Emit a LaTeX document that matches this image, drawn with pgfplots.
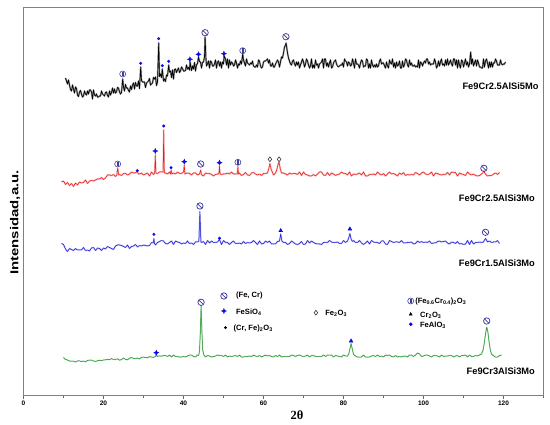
\documentclass[border=0pt]{standalone}
\usepackage{fontspec}
\setmainfont{Liberation Sans}
\newfontfamily\serifb{Liberation Serif}
\usepackage{pgfplots}
\pgfplotsset{compat=1.18}
\definecolor{navy}{RGB}{60,60,160}
\definecolor{mblue}{RGB}{10,10,230}
\definecolor{tred}{RGB}{232,30,30}
\definecolor{tblue}{RGB}{25,25,215}
\definecolor{tgreen}{RGB}{30,145,40}
\pgfdeclareplotmark{fecr}{%
  \pgfpathcircle{\pgfpointorigin}{\pgfplotmarksize}\pgfusepathqstroke
  \pgfpathmoveto{\pgfpoint{-0.7\pgfplotmarksize}{0.7\pgfplotmarksize}}%
  \pgfpathlineto{\pgfpoint{0.7\pgfplotmarksize}{-0.7\pgfplotmarksize}}\pgfusepathqstroke}
\pgfdeclareplotmark{fecro}{%
  \pgfpathcircle{\pgfpointorigin}{\pgfplotmarksize}\pgfusepathqstroke
  \pgfpathmoveto{\pgfpoint{-0.25\pgfplotmarksize}{-0.8\pgfplotmarksize}}%
  \pgfpathlineto{\pgfpoint{-0.25\pgfplotmarksize}{0.8\pgfplotmarksize}}%
  \pgfpathmoveto{\pgfpoint{0.25\pgfplotmarksize}{-0.8\pgfplotmarksize}}%
  \pgfpathlineto{\pgfpoint{0.25\pgfplotmarksize}{0.8\pgfplotmarksize}}\pgfusepathqstroke}
\pgfdeclareplotmark{star4}{%
  \pgfpathmoveto{\pgfpoint{0pt}{\pgfplotmarksize}}%
  \pgfpathlineto{\pgfpoint{0.3\pgfplotmarksize}{0.3\pgfplotmarksize}}%
  \pgfpathlineto{\pgfpoint{\pgfplotmarksize}{0pt}}%
  \pgfpathlineto{\pgfpoint{0.3\pgfplotmarksize}{-0.3\pgfplotmarksize}}%
  \pgfpathlineto{\pgfpoint{0pt}{-\pgfplotmarksize}}%
  \pgfpathlineto{\pgfpoint{-0.3\pgfplotmarksize}{-0.3\pgfplotmarksize}}%
  \pgfpathlineto{\pgfpoint{-\pgfplotmarksize}{0pt}}%
  \pgfpathlineto{\pgfpoint{-0.3\pgfplotmarksize}{0.3\pgfplotmarksize}}%
  \pgfpathclose\pgfusepathqfillstroke}
\begin{document}
\begin{tikzpicture}
\useasboundingbox (-23.5pt,-29pt) rectangle (526.5pt,395pt);
\begin{axis}[
  at={(0pt,0pt)}, anchor=south west,
  width=520pt, height=388pt, scale only axis,
  xmin=0, xmax=130, ymin=0, ymax=388,
  xtick={0,20,...,120}, minor xtick={10,30,...,130},
  ytick=\empty,
  tick align=outside, xtick pos=bottom,
  major tick length=3.5pt, minor tick length=2.5pt,
  axis line style={draw=black!50, line width=0.9pt},
  every tick/.style={black!60, line width=0.6pt},
  /pgf/number format/assume math mode=true,
  xticklabel style={font=\fontsize{6.5}{7}\selectfont\bfseries, yshift=1pt},
  clip=false,
]
% Fe9Cr2.5AlSi5Mo
\addplot[black, line width=0.65pt, line join=round, preaction={draw=black!40, line width=1.7pt, line join=round}] coordinates {
(10.5,317)(10.75,314)(11,311)(11.25,315)(11.5,310)(11.75,305.5)(12,304)(12.25,310)(12.5,306)(12.75,302)(13,308)(13.25,306.5)(13.5,300)(13.75,298.5)(14,303)(14.25,304.5)(14.5,301)(14.75,298)(15,299)(15.25,304)(15.5,301)(15.75,300)(16,304)(16.25,301)(16.5,305)(16.75,305)(17,303)(17.25,296)(17.5,305)(17.75,300)(18,299)(18.25,301)(18.5,298)(18.75,298)(19,299)(19.25,299)(19.5,304)(19.75,301)(20,300)(20.25,299)(20.5,302.5)(20.75,303)(21,299.5)(21.25,298)(21.5,304)(21.75,300)(22,302.5)(22.25,307)(22.5,302)(22.75,306)(23,302)(23.25,303)(23.5,307.5)(23.75,307)(24,303)(24.25,301)(24.5,302.5)(24.8,316)(25,308)(25.25,304)(25.5,310.5)(25.75,307)(26,307)(26.25,304.5)(26.5,303)(26.75,309)(27,305.5)(27.25,310)(27.5,312)(27.75,306)(28,312.5)(28.25,309)(28.5,309)(28.75,314)(29,306.5)(29.3,328)(29.5,314.5)(29.75,313)(30,313)(30.25,313)(30.5,307.5)(30.75,312)(31,313)(31.25,314)(31.5,316.5)(31.75,310)(32,311)(32.25,312)(32.5,317.5)(32.75,316)(33,318)(33.25,309.5)(33.5,313)(33.8,352)(34,318.5)(34.25,321)(34.5,317.5)(34.7,326)(35,314)(35.25,316)(35.5,313.5)(35.75,320)(36,319)(36.3,330)(36.5,323)(36.75,324)(37,317.5)(37.25,325)(37.5,316)(37.75,325.5)(38,326)(38.25,322.5)(38.5,325)(38.75,327)(39,322.5)(39.25,324)(39.5,328)(39.75,326.5)(40,324)(40.25,324)(40.5,324.5)(40.75,330)(41,326)(41.25,327.5)(41.5,325)(41.65,333)(42,324.5)(42.25,329)(42.5,326)(42.75,332.5)(43,324)(43.25,330)(43.5,331.5)(43.75,338)(44,333.5)(44.25,333)(44.5,327)(44.75,332.5)(45,333)(45.25,338)(45.4,358)(45.6,337)(45.75,329)(46,331)(46.25,334)(46.5,327)(46.75,334)(47,333)(47.25,329)(47.5,329)(47.75,331)(48,335)(48.25,327)(48.5,333)(48.75,334)(49,329)(49.25,333)(49.5,327)(49.75,333)(50,331)(50.15,339)(50.5,336)(50.75,330)(51,336)(51.25,327)(51.5,335)(51.75,330)(52,333)(52.25,332)(52.5,329)(52.75,330)(53,335)(53.25,332)(53.5,327)(53.75,331)(54,330)(54.25,334)(54.5,331)(54.8,341)(55,335)(55.25,332)(55.5,329)(55.75,336)(56,332)(56.25,331)(56.5,330)(56.75,332)(57,331)(57.25,334)(57.5,329)(57.75,328)(58,328)(58.25,330)(58.5,328)(58.75,335)(59,334)(59.25,329)(59.5,327)(59.75,328)(60,333)(60.25,334)(60.5,334)(60.75,335)(61,336)(61.25,332)(61.5,335)(61.75,329)(62,329)(62.25,332)(62.5,328)(62.75,328)(63,331)(63.25,333)(63.5,335)(63.75,333)(64,328)(64.25,333)(64.5,338)(64.75,337)(65,342)(65.25,348)(65.5,350)(65.65,352)(66,342)(66.25,337)(66.5,334)(66.75,331)(67,330)(67.25,334)(67.5,335)(67.75,331)(68,329)(68.25,333)(68.5,330)(68.75,333)(69,327)(69.25,330)(69.5,333)(69.75,336)(70,333)(70.25,328)(70.5,331)(70.75,336)(71,334)(71.25,330)(71.5,327)(71.75,329)(72,336)(72.25,327)(72.5,330)(72.75,327)(73,335)(73.25,330)(73.5,331)(73.75,327)(74,331)(74.25,332)(74.5,333)(74.75,336)(75,327)(75.25,336)(75.5,336)(75.75,329)(76,332)(76.25,328)(76.5,332)(76.75,335)(77,327)(77.25,328)(77.5,332)(77.75,334)(78,335)(78.25,331)(78.5,329)(78.75,328)(79,329)(79.25,330)(79.5,330)(79.75,332)(80,328)(80.25,336)(80.5,334)(80.75,333)(81,329)(81.25,333)(81.5,332)(81.75,329)(82,330)(82.25,336)(82.5,332)(82.75,327)(83,336)(83.25,331)(83.5,331)(83.75,330)(84,327)(84.25,332)(84.5,335)(84.75,334)(85,328)(85.25,329)(85.5,329)(85.75,336)(86,335)(86.25,327)(86.5,331)(86.75,327)(87,335)(87.25,330)(87.5,328)(87.75,330)(88,328)(88.25,331)(88.5,328)(88.75,329)(89,334)(89.25,336)(89.5,331)(89.75,332)(90,332)(90.25,329)(90.5,327)(90.75,333)(91,329)(91.25,327)(91.5,335)(91.75,332)(92,331)(92.25,336)(92.5,328)(92.75,332)(93,327)(93.25,333)(93.5,329)(93.75,330)(94,334)(94.25,327)(94.5,327)(94.75,334)(95,328)(95.25,330)(95.5,336)(95.75,335)(96,330)(96.25,328)(96.5,335)(96.75,330)(97,332)(97.25,329)(97.5,329)(97.75,330)(98,328)(98.25,329)(98.5,328)(98.75,335)(99,327)(99.25,333)(99.5,332)(99.75,329)(100,332)(100.25,334)(100.5,332)(100.75,336)(101,336)(101.25,331)(101.5,333)(101.75,330)(102,331)(102.25,331)(102.5,331)(102.75,336)(103,333)(103.25,327)(103.5,329)(103.75,334)(104,329)(104.25,333)(104.5,336)(104.75,330)(105,331)(105.25,329)(105.5,335)(105.75,330)(106,336)(106.25,330)(106.5,332)(106.75,335)(107,331)(107.25,329)(107.5,336)(107.75,336)(108,330)(108.25,335)(108.5,327)(108.75,335)(109,330)(109.25,327)(109.5,335)(109.75,334)(110,328)(110.25,332)(110.5,336)(110.75,330)(111,333)(111.25,328)(111.5,331)(111.8,343)(112,331)(112.25,336)(112.5,329)(112.75,332)(113,335)(113.25,329)(113.5,335)(113.75,332)(114,328)(114.25,328)(114.5,327)(114.75,327)(115,336)(115.25,328)(115.5,334)(115.75,336)(116,332)(116.25,327)(116.5,333)(116.75,328)(117,333)(117.25,328)(117.5,332)(117.75,332)(118,336)(118.25,334)(118.5,330)(118.75,330)(119,330)(119.25,335)(119.5,331)(119.75,330)(120,331)(120.25,331)(120.5,333)
};
% Fe9Cr2.5AlSi3Mo
\addplot[tred, line width=0.5pt, line join=round, preaction={draw=tred!30, line width=1.6pt, line join=round}] coordinates {
(9.5,213)(10,214)(10.5,210.5)(11,212.5)(11.5,209.5)(12,211.5)(12.5,208.5)(13,212)(13.5,210)(14,213)(14.5,212)(15,212.5)(15.5,215)(16,211.5)(16.5,214)(17,214.5)(17.5,214)(18,215)(18.5,216)(19,216)(19.5,217.5)(20,215.5)(20.5,217)(21,220)(21.5,220)(22,219.5)(22.5,220.5)(23,218.5)(23.3,219.5)(23.55,227)(23.8,220)(24,220.5)(24.5,219.5)(25,221.5)(25.5,221.5)(26,220)(26.5,221)(27,223)(27.5,222)(28,222)(28.45,224)(28.7,221)(29,221)(29.5,222)(30,220)(30.5,221)(31,222)(31.5,219)(32,223)(32.5,220.5)(32.8,222)(32.95,240)(33.1,222)(33.5,221.5)(34,223)(34.5,223)(34.9,223)(35.05,265)(35.2,222)(35.5,222)(36,221)(36.5,223)(36.75,221)(36.9,225)(37.1,221)(37.5,222)(38,221)(38.5,223)(39,221.5)(39.5,221.5)(40,223)(40.2,230)(40.35,221)(40.5,221.5)(41,222)(41.5,221.5)(42,220)(42.5,222)(43,222)(43.5,220)(44,221)(44.3,225)(44.45,221)(44.6,220)(45,219)(45.5,222)(46,221.5)(46.5,221.5)(47,220.5)(47.5,219)(48,220.5)(48.5,221)(48.85,221)(49,228.5)(49.15,221)(49.5,220.5)(50,221)(50.5,221)(51,222)(51.5,221)(52,223)(52.5,221)(53,221)(53.45,221)(53.6,228.5)(53.75,221)(54,222)(54.5,219.5)(55,220.5)(55.5,222.5)(56,220)(56.5,219.5)(57,222)(57.5,222.5)(58,221)(58.5,220)(59,221)(59.5,219.5)(60,221.5)(60.5,221.5)(61,222)(61.3,226)(61.6,231.5)(61.9,226)(62.2,223)(62.5,220)(63,222)(63.3,225)(63.6,230)(63.9,233)(64.2,226)(64.5,222)(65,222)(65.5,221)(66,220)(66.5,222)(67,221)(67.5,221.5)(68,221.5)(68.5,220.5)(69,223)(69.5,219.5)(70,223)(70.5,220.5)(71,220)(71.5,219)(72,219)(72.5,220.5)(73,219)(73.5,221)(74,223)(74.5,223)(75,220)(75.5,219.5)(76,222.5)(76.5,219.5)(77,222)(77.5,221)(78,219.5)(78.5,220.5)(79,221)(79.5,223)(80,221.5)(80.5,221.5)(81,220)(81.5,223)(82,219)(82.5,221)(83,220.5)(83.5,221)(84,222)(84.5,220)(85,223)(85.5,219)(86,219)(86.5,220.5)(87,220.5)(87.5,221)(88,220)(88.5,223)(89,221)(89.5,220)(90,221.5)(90.5,219)(91,221)(91.5,223)(92,221)(92.5,221.5)(93,220.5)(93.5,219)(94,222)(94.5,220.5)(95,222.5)(95.5,219.5)(96,220.5)(96.5,220)(97,220.5)(97.5,220)(98,222.5)(98.5,221.5)(99,220)(99.5,222)(100,223)(100.5,221)(101,220.5)(101.5,221)(102,223)(102.5,219)(103,222)(103.5,221.5)(104,220.5)(104.5,220)(105,220.5)(105.5,220.5)(106,222.5)(106.5,220)(107,223)(107.5,222.5)(108,222.5)(108.5,219)(109,222)(109.5,221)(110,220.5)(110.5,219.5)(111,223)(111.5,221)(112,220)(112.5,221)(113,219.5)(113.5,219)(114,219.5)(114.5,221)(114.8,222)(115.1,224)(115.4,221.5)(116,219)(116.5,219.5)(117,219.5)(117.5,221)(118,222)(118.5,220.5)(119,222.5)
};
% Fe9Cr1.5AlSi3Mo
\addplot[tblue, line width=0.5pt, line join=round, preaction={draw=tblue!28, line width=1.5pt, line join=round}] coordinates {
(9.5,151.5)(10,150.5)(10.5,146)(11,143.5)(11.5,146.5)(12,145.5)(12.5,144.5)(13,146.5)(13.5,145)(14,145)(14.5,145)(15,147.5)(15.5,144.5)(16,145)(16.5,144)(17,147)(17.5,147.5)(18,144.5)(18.5,147)(19,146.5)(19.5,144.5)(20,147)(20.5,146)(21,148.5)(21.5,147.5)(22,146.5)(22.5,145.5)(23,149)(23.5,150)(24,150)(24.5,149.5)(25,148.5)(25.5,147.5)(26,150)(26.5,146.5)(27,148.5)(27.5,149)(28,150.5)(28.5,148)(29,149.5)(29.5,149)(30,150)(30.5,149.5)(31,149)(31.5,149.5)(32,152.5)(32.45,152)(32.6,156.5)(32.75,151.5)(33,150)(33.5,152.5)(34,153.5)(34.5,154.5)(35,154)(35.5,151.5)(36,151)(36.5,152.5)(37,154)(37.5,150.5)(38,154)(38.5,153)(39,152.5)(39.5,151)(40,152)(40.5,151.5)(41,154)(41.5,151.5)(42,152)(42.5,150.5)(43,153)(43.5,153)(43.85,154)(44.1,183.5)(44.35,153)(44.5,152.5)(45,153.5)(45.5,150.5)(46,154.5)(46.5,152)(47,154)(47.5,152.5)(48,152.5)(48.5,153)(49,155.5)(49.5,150.5)(50,154.5)(50.5,152.5)(51,152.5)(51.5,150.5)(52,152.5)(52.5,154)(53,151.5)(53.5,151.5)(54,152)(54.5,151)(55,153.5)(55.5,151.5)(56,152.5)(56.5,152)(57,152.5)(57.5,154.5)(58,152.5)(58.5,150.5)(59,154)(59.5,151)(60,151.5)(60.5,154)(61,152.5)(61.5,154)(62,151)(62.5,151)(63,151)(63.5,153.5)(64,154)(64.3,161)(64.6,154)(65,152.5)(65.5,152.5)(66,150.5)(66.5,151.5)(67,154)(67.5,152.5)(68,151)(68.5,150.5)(69,151.5)(69.5,153.5)(70,150.5)(70.5,151)(71,154.5)(71.5,152)(72,154)(72.5,152.5)(73,151.5)(73.5,151)(74,151)(74.5,150.5)(75,152.5)(75.5,152.5)(76,152.5)(76.5,154.5)(77,153)(77.5,152.5)(78,152.5)(78.5,153)(79,151.5)(79.5,151.5)(80,154.5)(80.5,152.5)(81,154)(81.3,157)(81.6,161.5)(81.9,156)(82.2,153.5)(82.5,154.5)(83,152.5)(83.5,152.5)(84,154.5)(84.5,152)(85,150.5)(85.5,152)(86,154)(86.5,151)(87,154.5)(87.5,153)(88,152.5)(88.5,152.5)(89,151.5)(89.5,154)(90,154)(90.5,151)(91,150.5)(91.5,154.5)(92,153.5)(92.5,152.5)(93,153)(93.5,153)(94,152.5)(94.5,154.5)(95,152)(95.5,152)(96,152.5)(96.5,152.5)(97,153)(97.5,151)(98,151.5)(98.5,154)(99,152.5)(99.5,153.5)(100,152.5)(100.5,153)(101,152.5)(101.5,154)(102,151.5)(102.5,152)(103,152)(103.5,153.5)(104,154)(104.5,153)(105,153.5)(105.5,154)(106,152)(106.5,151)(107,153)(107.5,152.5)(108,151.5)(108.5,153.5)(109,151)(109.5,151.5)(110,150.5)(110.5,151)(111,154.5)(111.5,150.5)(112,154.5)(112.5,151)(113,152.5)(113.5,152.5)(114,153)(114.5,152.5)(115,153)(115.25,155)(115.5,156.5)(115.75,155)(116,153)(116.5,154)(117,152.5)(117.5,153)(118,153)(118.5,154.5)(119,151.5)
};
% Fe9Cr3AlSi3Mo
\addplot[tgreen, line width=0.5pt, line join=round, preaction={draw=tgreen!28, line width=1.3pt, line join=round}] coordinates {
(10,37.5)(10.5,35.5)(11,35)(11.5,34)(12,33.8)(12.5,33.8)(13,33)(13.5,34.1)(14,34.2)(14.5,33.3)(15,34)(15.5,33.1)(16,34.7)(16.5,34.8)(17,34.9)(17.5,34)(18,33.6)(18.5,34.2)(19,34.8)(19.5,34.4)(20,35)(20.5,35.1)(21,35.7)(21.5,35.3)(22,36.4)(22.5,35.5)(23,35.6)(23.5,36.2)(24,34.8)(24.5,35.4)(25,37)(25.5,35.6)(26,35.2)(26.5,36.8)(27,37.5)(27.5,36.6)(28,36.3)(28.5,36.9)(29,36.1)(29.5,37.7)(30,37.9)(30.5,37.5)(31,37.2)(31.5,38.3)(32,38)(32.5,37.6)(33,38.5)(33.2,41)(33.45,38.6)(34,39.1)(34.5,38.8)(35,39.5)(35.5,39.5)(36,38.5)(36.5,40)(37,38)(37.5,40)(38,38.5)(38.5,38.5)(39,38)(39.5,38)(40,38.5)(40.5,38)(41,39)(41.5,40)(42,40)(42.5,38.5)(43,38)(43.5,40)(43.8,39.5)(44,44)(44.2,62)(44.4,89)(44.6,64)(44.8,45)(45.1,40)(45.5,38)(46,39.5)(46.5,39)(47,38)(47.5,38.5)(48,39)(48.5,40)(49,39.5)(49.5,39.5)(50,38.5)(50.5,40)(51,38)(51.5,39)(52,38.5)(52.5,39)(53,39.5)(53.5,38.5)(54,40)(54.5,38)(55,38)(55.5,38.5)(56,38.5)(56.5,39)(57,38.5)(57.5,40)(58,39)(58.5,38.5)(59,39.5)(59.5,38)(60,39)(60.5,40)(61,39)(61.5,39.5)(62,38.5)(62.5,38)(63,39.5)(63.5,38.5)(64,40)(64.5,38)(65,38.5)(65.5,38.5)(66,38.5)(66.5,38.5)(67,40)(67.5,39.5)(68,38.5)(68.5,39.5)(69,40)(69.5,39)(70,38.5)(70.5,39)(71,40)(71.5,38)(72,39.5)(72.5,39.5)(73,38.5)(73.5,38.5)(74,38.5)(74.5,38.5)(75,40)(75.5,38.5)(76,40)(76.5,40)(77,40)(77.5,38)(78,39.5)(78.5,39)(79,38.5)(79.5,38)(80,40)(80.5,39)(81,39)(81.3,41)(81.6,46)(81.9,51.5)(82.2,46)(82.5,40.5)(83,39)(83.5,38)(84,38)(84.5,38)(85,40)(85.5,38)(86,38)(86.5,38)(87,39)(87.5,39.5)(88,38.5)(88.5,40)(89,38.5)(89.5,39)(90,38)(90.5,40)(91,39.5)(91.5,40)(92,38.5)(92.5,38)(93,39.5)(93.5,38)(94,38.5)(94.5,38)(95,39)(95.5,39)(96,38)(96.5,40)(97,40)(97.5,38.5)(98,40)(98.5,42)(99,41)(99.5,38.5)(100,39)(100.5,40)(101,40)(101.5,39)(102,38)(102.5,39.5)(103,39.5)(103.5,39)(104,38)(104.5,40)(105,38.5)(105.5,39)(106,39)(106.5,39.5)(107,39.5)(107.5,38)(108,39)(108.5,39.5)(109,38)(109.5,39.5)(110,39.5)(110.5,40)(111,38)(111.5,40)(112,38.5)(112.5,38.5)(113,39.5)(113.5,39)(114,40)(114.5,41)(114.9,45)(115.2,52)(115.5,61)(115.8,68)(116.1,63)(116.4,53)(116.7,45)(117,41)(117.4,39.5)(118,38)(118.5,38)(119,39.5)(119.5,40)
};
% (Fe, Cr)
\addplot[only marks, mark=fecr, mark size=3.2pt, mark options={draw=navy, line width=0.75pt}] coordinates {
(45.4,362.3)(65.6,358.3)(44.3,231)(115.1,226.7)(44.1,189)(115.5,162.7)(44.4,92.7)(115.8,74)(50.1,99)};
% (Fe0.6Cr0.4)2O3
\addplot[only marks, mark=fecro, mark size=3pt, mark options={draw=navy, line width=0.6pt}] coordinates {
(24.8,321)(54.8,344.3)(23.55,231)(53.6,232.7)(96.8,94)};
% FeSiO4
\addplot[only marks, mark=star4, mark size=2.6pt, mark options={draw=mblue, fill=mblue, line width=0.3pt}] coordinates {
(41.6,335.7)(43.75,340.7)(50.1,341.3)(32.95,244)(40.2,233.3)(49,232.3)(33.2,42.3)(50.1,84)};
% (Cr, Fe)2O3
\addplot[only marks, mark=*, mark size=1.3pt, mark options={draw=mblue, fill=mblue}] coordinates {
(29.3,331.7)(33.8,356.3)(34.7,329.3)(36.3,333.7)(28.45,224.3)(35.05,269)(36.9,227.3)(32.6,160.7)(49,156.7)};
\addplot[only marks, mark=*, mark size=1.2pt, mark options={draw=black, fill=black}] coordinates {(50.5,67.3)};
% Fe2O3
\addplot[only marks, mark=diamond, mark size=2.4pt, mark options={draw=black!80, line width=0.6pt}] coordinates {
(61.6,235.7)(63.9,235.7)(73.1,82.3)};
% Cr2O3
\addplot[only marks, mark=triangle*, mark size=2.2pt, mark options={draw=mblue, fill=mblue}] coordinates {
(64.3,164.3)(81.6,166)(81.9,54)};
\addplot[only marks, mark=triangle*, mark size=1.8pt, mark options={draw=black, fill=black}] coordinates {(96.8,80.7)};
% FeAlO3
\addplot[only marks, mark=*, mark size=1.6pt, mark options={draw=mblue, fill=mblue}] coordinates {(96.8,70.7)};

\begin{scope}[every node/.style={font=\fontsize{9.3}{11}\selectfont\bfseries, inner sep=0pt}]
\node[anchor=east] at (axis cs:128.8,309) {Fe9Cr2.5AlSi5Mo};
\node[anchor=east] at (axis cs:127.9,196.7) {Fe9Cr2.5AlSi3Mo};
\node[anchor=east] at (axis cs:127.9,131.7) {Fe9Cr1.5AlSi3Mo};
\node[anchor=east] at (axis cs:127.9,24.3) {Fe9Cr3AlSi3Mo};
\end{scope}
\begin{scope}[every node/.style={font=\fontsize{7.6}{9}\selectfont\bfseries, inner sep=0pt, anchor=west}]
\node at (axis cs:53.1,99) {(Fe, Cr)};
\node at (axis cs:53.1,83) {FeSiO\textsubscript{4}};
\node at (axis cs:52.5,66.3) {(Cr, Fe)\textsubscript{2}O\textsubscript{3}};
\node at (axis cs:75.4,81.3) {Fe\textsubscript{2}O\textsubscript{3}};
\node at (axis cs:97.9,93) {(Fe\textsubscript{0.6}Cr\textsubscript{0.4})\textsubscript{2}O\textsubscript{3}};
\node at (axis cs:99.1,79.7) {Cr\textsubscript{2}O\textsubscript{3}};
\node at (axis cs:99.1,69.7) {FeAlO\textsubscript{3}};
\end{scope}
\node[rotate=90, anchor=base, inner sep=0pt] at (axis cs:-1.3,172.5) {\scalebox{1.3}[1]{\fontsize{11.5}{13}\selectfont\bfseries Intensidad,a.u.}};
\node[anchor=base, inner sep=0pt] at (axis cs:68.4,-24.3) {\fontsize{12.5}{14}\selectfont\serifb\bfseries 2θ};
\end{axis}
\end{tikzpicture}
\end{document}
